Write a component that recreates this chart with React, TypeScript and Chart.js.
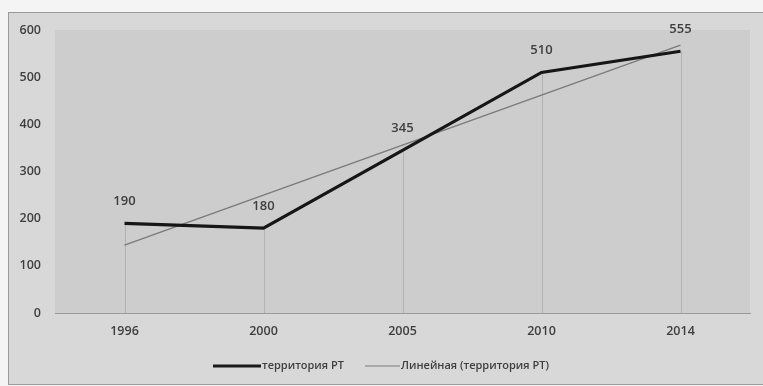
import React, { useEffect, useRef } from "react";
import { Chart, registerables } from "chart.js";

Chart.register(...registerables);

const years = ["1996", "2000", "2005", "2010", "2014"];
const territoryValues = [190, 180, 345, 510, 555];
const trendValues = [144, 250, 356, 462, 568];
const yTicks = [0, 100, 200, 300, 400, 500, 600];
const seriesName = "территория РТ";
const trendName = "Линейная (территория РТ)";

const FONT = "'Open Sans', 'DejaVu Sans', sans-serif";
const TEXT = "#3e3e3e";

const framePlugin = {
  id: "frame",
  beforeDraw(chart: any) {
    const { ctx, width, height, chartArea } = chart;
    ctx.save();
    ctx.fillStyle = "#f4f4f4";
    ctx.fillRect(0, 0, width, height);
    ctx.fillStyle = "#d8d8d8";
    ctx.fillRect(8, 12, width - 8, height - 14);
    ctx.strokeStyle = "#9a9a9a";
    ctx.lineWidth = 1;
    ctx.strokeRect(8.5, 12.5, width - 8, height - 14);
    ctx.fillStyle = "#cdcdcd";
    ctx.fillRect(chartArea.left, chartArea.top, chartArea.right - chartArea.left, chartArea.bottom - chartArea.top);
    ctx.restore();
  },
  beforeDatasetsDraw(chart: any) {
    // drop lines from each point of the main series down to the category axis
    const { ctx, chartArea } = chart;
    const meta = chart.getDatasetMeta(0);
    ctx.save();
    ctx.strokeStyle = "#b2b2b2";
    ctx.lineWidth = 1;
    meta.data.forEach((pt: any) => {
      const x = Math.round(pt.x) + 0.5;
      ctx.beginPath();
      ctx.moveTo(x, pt.y);
      ctx.lineTo(x, chartArea.bottom);
      ctx.stroke();
    });
    ctx.restore();
  },
  afterDraw(chart: any) {
    const { ctx } = chart;
    const meta = chart.getDatasetMeta(0);
    ctx.save();
    // value labels above the points
    ctx.font = `600 13px ${FONT}`;
    ctx.fillStyle = TEXT;
    ctx.textAlign = "center";
    ctx.textBaseline = "middle";
    meta.data.forEach((pt: any, i: number) => {
      ctx.fillText(String(territoryValues[i]), pt.x, pt.y - 22);
    });
    // legend
    const ly = 366;
    ctx.font = `600 11px ${FONT}`;
    ctx.textAlign = "left";
    ctx.strokeStyle = "#1a1a1a";
    ctx.lineWidth = 3;
    ctx.beginPath();
    ctx.moveTo(213, ly);
    ctx.lineTo(261, ly);
    ctx.stroke();
    ctx.fillText(seriesName, 262, ly);
    ctx.strokeStyle = "#7a7a7a";
    ctx.lineWidth = 1.2;
    ctx.beginPath();
    ctx.moveTo(365, ly);
    ctx.lineTo(400, ly);
    ctx.stroke();
    ctx.fillText(trendName, 401, ly);
    ctx.restore();
  },
};

export default function App() {
  const ref = useRef<HTMLCanvasElement | null>(null);

  useEffect(() => {
    document.body.style.margin = "0";
    const chart = new Chart(ref.current as HTMLCanvasElement, {
      type: "line",
      data: {
        labels: years,
        datasets: [
          {
            label: seriesName,
            data: territoryValues,
            borderColor: "#161616",
            borderWidth: 3.2,
            pointRadius: 0,
            tension: 0,
          },
          {
            label: trendName,
            data: trendValues,
            borderColor: "#7a7a7a",
            borderWidth: 1.3,
            pointRadius: 0,
            tension: 0,
          },
        ],
      },
      options: {
        responsive: false,
        animation: false,
        layout: { padding: { left: 8, right: 13, top: 30, bottom: 33 } },
        plugins: { legend: { display: false }, tooltip: { enabled: false } },
        scales: {
          x: {
            offset: true,
            grid: { display: false, drawTicks: false },
            border: { display: true, color: "#9a9a9a", width: 1 },
            ticks: { padding: 11, color: TEXT, font: { family: FONT, size: 12.5, weight: "600" } },
            afterFit: (s: any) => {
              s.height = 40;
            },
          },
          y: {
            min: 0,
            max: 600,
            afterBuildTicks: (s: any) => {
              s.ticks = yTicks.map((v) => ({ value: v }));
            },
            grid: { display: false, drawTicks: false },
            border: { display: false },
            ticks: { padding: 14, color: TEXT, font: { family: FONT, size: 12.5, weight: "600" } },
            afterFit: (s: any) => {
              s.width = 47;
            },
          },
        },
      },
      plugins: [framePlugin],
    });
    return () => chart.destroy();
  }, []);

  return <canvas ref={ref} width={763} height={386} style={{ display: "block" }} />;
}
